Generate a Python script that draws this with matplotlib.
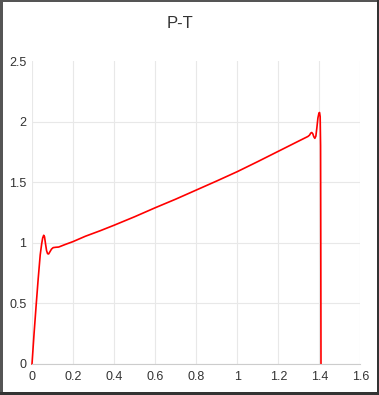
import matplotlib
matplotlib.use("Agg")
import matplotlib.pyplot as plt
from matplotlib.patches import Rectangle

title = "P-T"
x_vals = [0.0, 0.01, 0.02, 0.03, 0.04, 0.047, 0.052, 0.057, 0.061, 0.066, 0.071,
          0.076, 0.081, 0.087, 0.095, 0.103, 0.115, 0.13, 0.16, 0.2, 0.26, 0.333,
          0.4, 0.5, 0.6, 0.7, 0.8, 0.9, 1.0, 1.1, 1.213, 1.3, 1.344, 1.352, 1.358,
          1.363, 1.368, 1.373, 1.378, 1.383, 1.388, 1.393, 1.398, 1.401, 1.404,
          1.406, 1.407, 1.408]
y_vals = [0.0, 0.25, 0.48, 0.70, 0.90, 0.99, 1.04, 1.062, 1.05, 0.99, 0.935,
          0.91, 0.908, 0.925, 0.948, 0.96, 0.963, 0.965, 0.985, 1.01, 1.054, 1.10,
          1.145, 1.215, 1.289, 1.36, 1.435, 1.51, 1.587, 1.67, 1.766, 1.84, 1.877,
          1.888, 1.905, 1.91, 1.90, 1.875, 1.862, 1.88, 1.95, 2.03, 2.07, 2.075,
          2.04, 1.8, 1.0, 0.0]
x_ticks = [0, 0.2, 0.4, 0.6, 0.8, 1, 1.2, 1.4, 1.6]
x_labels = ["0", "0.2", "0.4", "0.6", "0.8", "1", "1.2", "1.4", "1.6"]
y_ticks = [0, 0.5, 1, 1.5, 2, 2.5]
y_labels = ["0", "0.5", "1", "1.5", "2", "2.5"]

W, H = 379, 395
fig = plt.figure(figsize=(W / 100, H / 100), dpi=100)
fig.patch.set_facecolor("white")
plt.rcParams['font.family'] = ['Liberation Sans', 'DejaVu Sans']

L, R, T, B = 32, 360.4, 61, 364
ax = fig.add_axes([L / W, 1 - B / H, (R - L) / W, (B - T) / H])
ax.plot(x_vals, y_vals, color="#ff0000", lw=1.2, solid_joinstyle="round", clip_on=False)
ax.set_xlim(0, 1.6)
ax.set_ylim(0, 2.5)
ax.set_xticks(x_ticks)
ax.set_xticklabels(x_labels)
ax.set_yticks(y_ticks)
ax.set_yticklabels(y_labels)
ax.grid(True, color="#e8e8e8", lw=0.8)
ax.set_axisbelow(True)
ax.yaxis.get_gridlines()[-1].set_visible(False)
for s in ["top", "right", "left"]:
    ax.spines[s].set_visible(False)
ax.spines["bottom"].set_color("#cccccc")
ax.spines["bottom"].set_linewidth(0.8)
ax.tick_params(length=0, labelsize=9, colors="#333333", pad=5)
ax.tick_params(axis="y", pad=4)

fig.text(180 / W, 1 - 23 / H, title, ha="center", va="center", fontsize=12, color="#333333")

# screenshot frame
fig.add_artist(Rectangle((0, 0), 2.5 / W, 1, transform=fig.transFigure, color="#555555", lw=0))
fig.add_artist(Rectangle((0, 0), 1, 3 / H, transform=fig.transFigure, color="#333333", lw=0))
fig.add_artist(Rectangle((0, 1 - 1.5 / H), 1, 1.5 / H, transform=fig.transFigure, color="#555555", lw=0))
fig.add_artist(Rectangle((1 - 2 / W, 0), 2 / W, 1, transform=fig.transFigure, color="#333333", lw=0))

fig.savefig("out.png", dpi=100)
